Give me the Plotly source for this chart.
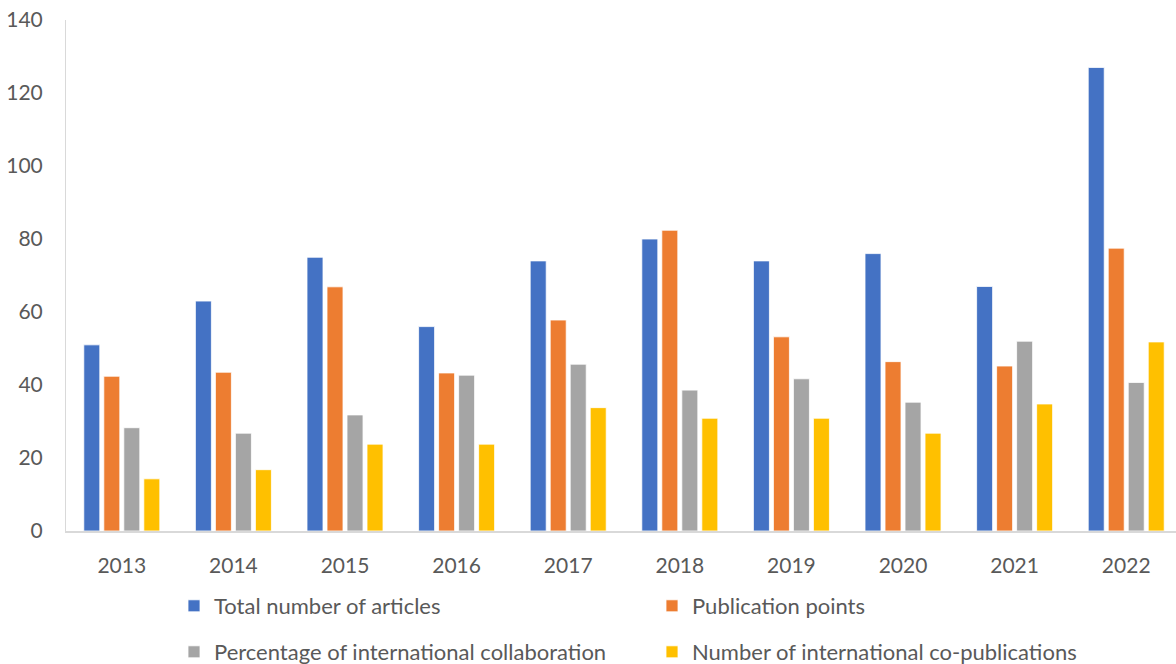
import plotly.graph_objects as go

years = ["2013", "2014", "2015", "2016", "2017", "2018", "2019", "2020", "2021", "2022"]
total_articles = [51, 63, 75, 56, 74, 80, 74, 76, 67, 127]
publication_points = [42.4, 43.5, 66.9, 43.3, 57.8, 82.4, 53.2, 46.4, 45.2, 77.5]
pct_intl_collab = [28.3, 26.8, 31.8, 42.7, 45.7, 38.6, 41.7, 35.3, 52.0, 40.7]
intl_copubs = [14.3, 16.8, 23.8, 23.8, 33.8, 30.9, 30.9, 26.8, 34.8, 51.8]

series = [
    ("Total number of articles", total_articles, "#4472C4", "legend"),
    ("Publication points", publication_points, "#ED7D31", "legend"),
    ("Percentage of international collaboration", pct_intl_collab, "#A5A5A5", "legend2"),
    ("Number of international co-publications", intl_copubs, "#FFC000", "legend2"),
]

font_family = "Lato, 'Open Sans', sans-serif"
text_color = "#595959"

fig = go.Figure()
for name, vals, color, leg in series:
    fig.add_trace(go.Bar(
        x=years, y=vals, name=name,
        marker=dict(color=color, line=dict(color="white", width=0.8)),
        legend=leg,
    ))

legend_common = dict(
    orientation="h",
    xref="container",
    yref="container",
    xanchor="left",
    yanchor="middle",
    entrywidth=433,
    entrywidthmode="pixels",
    font=dict(family=font_family, size=22, color=text_color),
    bgcolor="rgba(0,0,0,0)",
    itemclick=False,
)

fig.update_layout(
    width=1176,
    height=664,
    margin=dict(l=66, r=0, t=20, b=133),
    paper_bgcolor="white",
    plot_bgcolor="white",
    barmode="group",
    bargap=0.283,
    bargroupgap=0.2,
    font=dict(family=font_family, size=21, color=text_color),
    legend=dict(x=174 / 1176, y=1 - 606 / 664, **legend_common),
    legend2=dict(x=174 / 1176, y=1 - 652 / 664, **legend_common),
    xaxis=dict(
        range=[-0.5, 9.446],
        showgrid=False,
        showline=True,
        linecolor="#D9D9D9",
        linewidth=2,
        ticks="",
        tickfont=dict(family=font_family, size=21, color=text_color),
        ticklabelstandoff=15,
    ),
    yaxis=dict(
        range=[0, 140],
        dtick=20,
        showgrid=False,
        showline=True,
        linecolor="#D9D9D9",
        linewidth=1,
        ticks="",
        zeroline=False,
        tickfont=dict(family=font_family, size=21, color=text_color),
        ticklabelstandoff=18,
    ),
)

fig.write_html("out.html")
